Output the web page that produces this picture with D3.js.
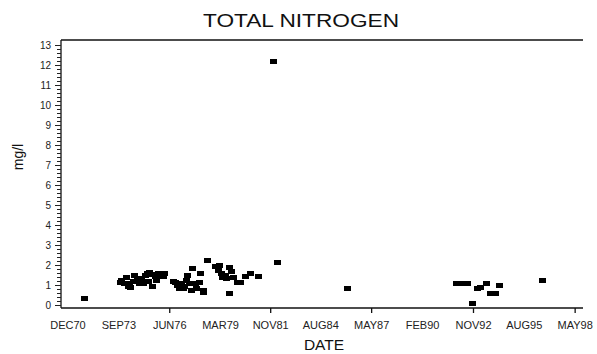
<!DOCTYPE html>
<html><head><meta charset="utf-8">
<script src="https://cdn.jsdelivr.net/npm/d3@7"></script>
<style>
html,body{margin:0;padding:0;background:#fff;}
svg{display:block;font-family:"Liberation Sans",Arial,sans-serif;}
</style></head>
<body>
<svg id="chart" width="597" height="354"></svg>
<script>
// ---- data ----
const sampleDates = [
  "1971-11-01",
  "1973-09-23","1973-11-01","1973-12-11","1974-01-20","1974-02-28","1974-04-08","1974-04-28",
  "1974-06-07","1974-07-16","1974-08-25","1974-10-03","1974-11-12","1974-12-21","1975-01-30",
  "1975-03-10","1975-04-18","1975-05-08","1975-06-17","1975-07-06","1975-08-15","1975-09-23",
  "1975-11-01","1975-12-11","1976-01-20","1976-02-28",
  "1976-08-05","1976-09-13","1976-10-23","1976-12-01","1977-01-10","1977-02-18","1977-03-10",
  "1977-04-18","1977-05-08","1977-06-17","1977-07-26","1977-09-03","1977-09-23","1977-11-01",
  "1977-11-21","1977-12-31","1978-02-08","1978-03-20","1978-04-08","1978-06-07",
  "1978-12-01","1979-01-10","1979-01-30","1979-03-10","1979-04-18","1979-05-28","1979-07-06",
  "1979-08-15","1979-09-03","1979-10-13","1979-11-21","1980-01-20","1980-03-20","1980-06-26",
  "1980-10-03","1981-03-29",
  "1981-12-31","1982-04-08","1985-12-31",
  "1991-12-11","1992-03-20","1992-06-26","1992-10-03","1993-01-10","1993-03-29","1993-07-06",
  "1993-09-23","1993-12-31","1994-04-08","1996-07-16"
];
const nitrogen = [
  0.35,
  1.15,1.25,1.05,1.4,0.95,1.1,0.9,
  1.2,1.5,1.25,1.1,1.35,1.05,1.5,
  1.6,1.2,1.65,0.95,1.55,1.45,1.25,
  1.6,1.5,1.45,1.6,
  1.2,1.15,1.0,0.85,1.05,0.85,0.95,
  1.25,1.5,1.1,0.75,1.85,1.05,1.1,
  0.85,1.15,1.6,0.65,0.75,2.25,
  1.95,1.75,2.0,1.6,1.4,1.5,1.35,
  0.6,1.9,1.7,1.4,1.15,1.15,1.45,
  1.6,1.45,
  12.2,2.15,0.85,
  1.1,1.1,1.05,0.1,0.85,0.9,1.05,
  0.6,0.6,1.0,1.25
];
const xLabelDates = ["1970-12-01","1973-09-01","1976-06-01","1979-03-01","1981-11-15","1984-08-01",
                     "1987-05-01","1990-02-01","1992-11-01","1995-08-01","1998-05-01"];
const xLabels = ["DEC70","SEP73","JUN76","MAR79","NOV81","AUG84","MAY87","FEB90","NOV92","AUG95","MAY98"];
const xTickDates = ["1976-06-01","1981-11-15","1987-05-01","1992-11-01","1998-05-01"];
const yTicks = [0,1,2,3,4,5,6,7,8,9,10,11,12,13];
const chartTitle = "TOTAL NITROGEN";
const xTitle = "DATE";
const yTitle = "mg/l";

// ---- drawing ----
(function () {
const parse = d3.timeParse("%Y-%m-%d");
const svg = d3.select("#chart");
const mLeft = 61, mRight = 583, mTop = 40, mBottom = 308;

const x = d3.scaleTime()
  .domain([parse("1970-07-16"), parse("1998-10-03")])
  .range([mLeft, mRight]);
const y = d3.scaleLinear().domain([0, 13]).range([305, 45]);

// frame
const frame = svg.append("g").attr("stroke", "#111").attr("stroke-width", 1.3).attr("fill", "none");
frame.append("line").attr("x1", mLeft).attr("x2", mRight).attr("y1", mTop).attr("y2", mTop);
frame.append("line").attr("x1", mLeft).attr("x2", mRight).attr("y1", mBottom).attr("y2", mBottom);
frame.append("line").attr("x1", mLeft).attr("x2", mLeft).attr("y1", mTop).attr("y2", mBottom);

// y axis minor/major ticks
const minor = d3.range(0, 13.01, 0.2);
svg.append("g").attr("stroke", "#222").attr("stroke-width", 1)
  .selectAll("line").data(minor).join("line")
  .attr("x1", d => Math.abs(d - Math.round(d)) < 1e-6 ? mLeft - 6 : mLeft - 4)
  .attr("x2", mLeft)
  .attr("y1", d => Math.round(y(d)) + 0.5)
  .attr("y2", d => Math.round(y(d)) + 0.5);

svg.append("g").selectAll("text").data(yTicks).join("text")
  .attr("x", 51).attr("y", d => y(d) + 3.5)
  .attr("text-anchor", "end").attr("font-size", 10).attr("fill", "#222")
  .text(d => d);

// x ticks
svg.append("g").attr("stroke", "#111").attr("stroke-width", 1.3)
  .selectAll("line").data(xTickDates).join("line")
  .attr("x1", d => x(parse(d))).attr("x2", d => x(parse(d)))
  .attr("y1", mBottom).attr("y2", mBottom + 5);

svg.append("g").selectAll("text").data(xLabels).join("text")
  .attr("x", (d, i) => x(parse(xLabelDates[i])))
  .attr("y", 329)
  .attr("text-anchor", "middle").attr("font-size", 11).attr("fill", "#222")
  .text(d => d);

// titles
svg.append("text").attr("x", 301).attr("y", 27).attr("text-anchor", "middle")
  .attr("font-size", 18).attr("textLength", 196).attr("lengthAdjust", "spacingAndGlyphs")
  .attr("fill", "#111").text(chartTitle);
svg.append("text").attr("x", 324).attr("y", 350).attr("text-anchor", "middle")
  .attr("font-size", 15.5).attr("fill", "#111").text(xTitle);
svg.append("text").attr("transform", "translate(23,157) rotate(-90)")
  .attr("text-anchor", "middle").attr("font-size", 14).attr("fill", "#111").text(yTitle);

// points
const pts = sampleDates.map((d, i) => ({date: parse(d), v: nitrogen[i]}));
svg.append("g").selectAll("rect").data(pts).join("rect")
  .attr("x", d => Math.round(x(d.date) - 3.5))
  .attr("y", d => Math.round(y(d.v) - 2.5))
  .attr("width", 7).attr("height", 5)
  .attr("fill", "#000").attr("shape-rendering", "crispEdges");
})();
</script>
</body></html>
